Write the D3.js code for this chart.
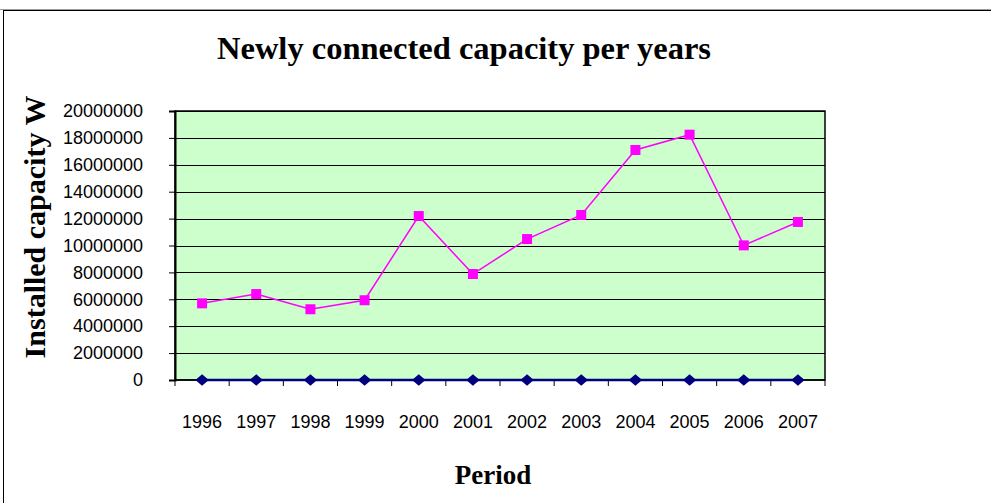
<!DOCTYPE html>
<html>
<head>
<meta charset="utf-8">
<script src="https://cdn.jsdelivr.net/npm/d3@7"></script>
<style>
  body { margin: 0; background: #fff; }
  svg { display: block; }
</style>
</head>
<body>
<script>
// chart data
var years = ["1996", "1997", "1998", "1999", "2000", "2001", "2002", "2003", "2004", "2005", "2006", "2007"];
var capacity = [5700000, 6390000, 5260000, 5930000, 12190000, 7880000, 10480000, 12270000, 17100000, 18240000, 10010000, 11750000];
var baseline = [0, 0, 0, 0, 0, 0, 0, 0, 0, 0, 0, 0];
var yTicks = [0, 2000000, 4000000, 6000000, 8000000, 10000000, 12000000, 14000000, 16000000, 18000000, 20000000];

var W = 991, H = 503;
var margin = { top: 111, right: 166, bottom: 123, left: 175 },
    width = W - margin.left - margin.right,
    height = H - margin.top - margin.bottom;

var sans = "Arial, 'Liberation Sans', sans-serif",
    serif = "'Times New Roman', 'Liberation Serif', serif";

var svg = d3.select("body").append("svg")
    .attr("width", W)
    .attr("height", H);

// outer frame of the chart object
svg.append("line")
    .attr("x1", 0).attr("x2", W).attr("y1", 9.5).attr("y2", 9.5)
    .attr("stroke", "#999").attr("stroke-width", 1);
svg.append("rect")
    .attr("x", 3.5).attr("y", 10.5)
    .attr("width", W + 10).attr("height", H + 10)
    .attr("fill", "none").attr("stroke", "#000").attr("stroke-width", 1);

var g = svg.append("g")
    .attr("transform", "translate(" + margin.left + "," + margin.top + ")");

var xScale = d3.scaleBand()
    .domain(years)
    .range([0, width]);

var yScale = d3.scaleLinear()
    .domain([0, 20000000])
    .range([height, 0]);

// plot area
g.append("rect")
    .attr("width", width).attr("height", height)
    .attr("fill", "#CCFFCC");

// gridlines
g.selectAll(".grid").data(yTicks.slice(1)).enter().append("line")
    .attr("class", "grid")
    .attr("x1", 0).attr("x2", width)
    .attr("y1", function (d) { return Math.round(yScale(d)) + 0.5; })
    .attr("y2", function (d) { return Math.round(yScale(d)) + 0.5; })
    .attr("stroke", "#000").attr("stroke-width", 1);

// plot border
g.append("rect")
    .attr("width", width).attr("height", height)
    .attr("fill", "none").attr("stroke", "#000").attr("stroke-width", 1.5);

// y axis
var yAxis = g.append("g")
    .call(d3.axisLeft(yScale).tickValues(yTicks).tickSize(6).tickPadding(26)
        .tickFormat(d3.format("d")));
yAxis.attr("font-size", null).attr("font-family", null);
yAxis.select(".domain").attr("stroke-width", 2);
yAxis.selectAll("text")
    .style("font-family", sans)
    .style("font-size", "18px")
    .attr("fill", "#000");

// x axis: ticks between categories
var xAxisG = g.append("g")
    .attr("transform", "translate(0," + height + ")");
xAxisG.append("line")
    .attr("x1", 0).attr("x2", width)
    .attr("stroke", "#000").attr("stroke-width", 1.5);
xAxisG.selectAll(".xt").data(d3.range(years.length + 1)).enter().append("line")
    .attr("class", "xt")
    .attr("x1", function (i) { return xScale.step() * i; })
    .attr("x2", function (i) { return xScale.step() * i; })
    .attr("y1", 0).attr("y2", 6)
    .attr("stroke", "#000");
xAxisG.selectAll(".xl").data(years).enter().append("text")
    .attr("class", "xl")
    .attr("x", function (d) { return xScale(d) + xScale.bandwidth() / 2; })
    .attr("y", 48)
    .attr("text-anchor", "middle")
    .style("font-family", sans)
    .style("font-size", "18px")
    .text(function (d) { return d; });

var cx = function (d, i) { return xScale(years[i]) + xScale.bandwidth() / 2; };

var line = d3.line()
    .x(cx)
    .y(function (d) { return yScale(d); });

// zero series (navy diamonds)
g.append("path")
    .datum(baseline)
    .attr("d", line)
    .attr("fill", "none")
    .attr("stroke", "#000080").attr("stroke-width", 2.5);
g.selectAll(".dia").data(baseline).enter().append("path")
    .attr("class", "dia")
    .attr("d", d3.symbol().type(d3.symbolDiamond2).size(115))
    .attr("transform", function (d, i) { return "translate(" + cx(d, i) + "," + yScale(d) + ") scale(1,0.85)"; })
    .attr("fill", "#000080");

// capacity series (magenta squares)
g.append("path")
    .datum(capacity)
    .attr("d", line)
    .attr("fill", "none")
    .attr("stroke", "#FF00FF").attr("stroke-width", 1.5);
g.selectAll(".sq").data(capacity).enter().append("rect")
    .attr("class", "sq")
    .attr("x", function (d, i) { return cx(d, i) - 5; })
    .attr("y", function (d) { return yScale(d) - 5; })
    .attr("width", 10).attr("height", 10)
    .attr("fill", "#FF00FF");

// titles
svg.append("text")
    .attr("x", 464).attr("y", 59)
    .attr("text-anchor", "middle")
    .style("font-family", serif)
    .style("font-weight", "bold")
    .style("font-size", "32.5px")
    .text("Newly connected capacity per years");

svg.append("text")
    .attr("transform", "translate(45,227) rotate(-90)")
    .attr("text-anchor", "middle")
    .style("font-family", serif)
    .style("font-weight", "bold")
    .style("font-size", "30px")
    .text("Installed capacity W");

svg.append("text")
    .attr("x", 493).attr("y", 484)
    .attr("text-anchor", "middle")
    .style("font-family", serif)
    .style("font-weight", "bold")
    .style("font-size", "27px")
    .text("Period");
</script>
</body>
</html>
